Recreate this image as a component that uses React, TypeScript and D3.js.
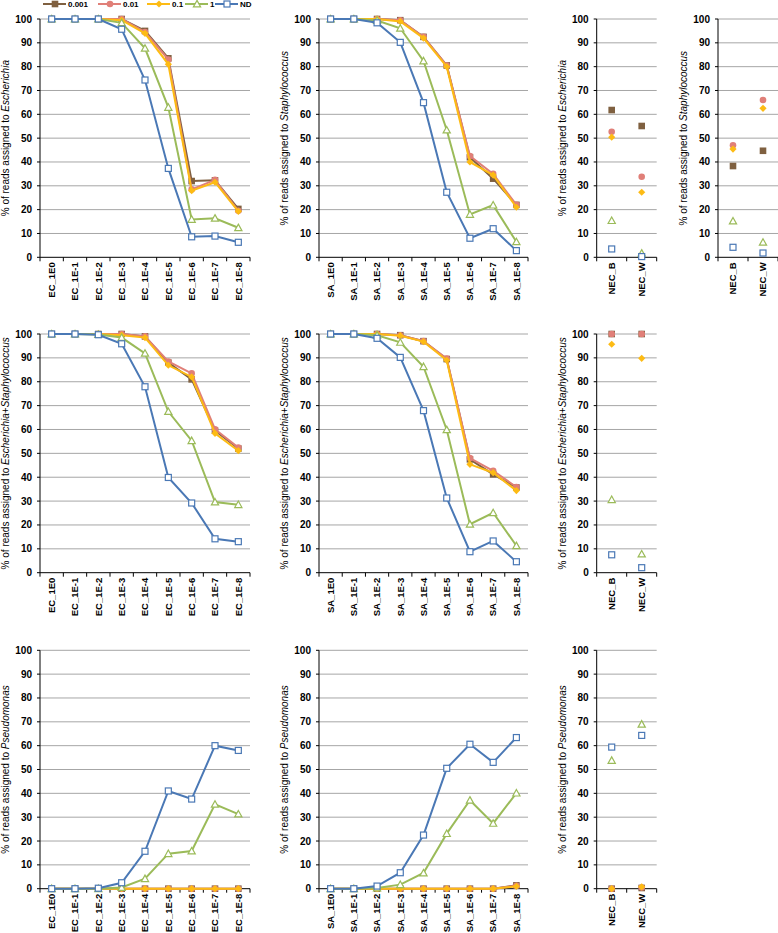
import React from "react";
import * as d3 from "d3";

const seriesNames = ["0.001", "0.01", "0.1", "1", "ND"];
const seriesColors = ["#7f6040", "#e07f78", "#fdbb14", "#9bbb59", "#4a78b5"];
const yTicks = [0, 10, 20, 30, 40, 50, 60, 70, 80, 90, 100];

const ecCategories = ["EC_1E0", "EC_1E-1", "EC_1E-2", "EC_1E-3", "EC_1E-4", "EC_1E-5", "EC_1E-6", "EC_1E-7", "EC_1E-8"];
const saCategories = ["SA_1E0", "SA_1E-1", "SA_1E-2", "SA_1E-3", "SA_1E-4", "SA_1E-5", "SA_1E-6", "SA_1E-7", "SA_1E-8"];
const necCategories = ["NEC_B", "NEC_W"];

// rows: 0.001, 0.01, 0.1, 1, ND
const ecEscherichia = [
  [100, 100, 100, 100, 95, 83.5, 32, 32.3, 20.3],
  [100, 100, 100, 100, 94.5, 83, 28.5, 32.5, 19.5],
  [100, 100, 100, 99.5, 94, 81, 28, 31.5, 19.3],
  [100, 100, 100, 98.4, 87.7, 62.9, 15.9, 16.4, 12.4],
  [100, 100, 100, 95.7, 74.4, 37.3, 8.6, 8.9, 6.3],
];
const saStaphylococcus = [
  [100, 100, 100, 99.5, 92.5, 80.5, 42, 33, 22],
  [100, 100, 100, 99.5, 92.5, 80.5, 42.5, 35, 22],
  [100, 100, 100, 99, 92, 80, 40, 34.5, 21],
  [100, 100, 99.4, 96.1, 82.4, 53.4, 18, 21.9, 6.5],
  [100, 100, 98.4, 90.2, 64.9, 27.3, 8, 12, 2.8],
];
const necEscherichia = [
  [61.8, 55.1],
  [52.7, 33.8],
  [50.4, 27.3],
  [15.4, 1.7],
  [3.5, 0.3],
];
const necStaphylococcus = [
  [38.3, 44.7],
  [47, 66],
  [45.4, 62.5],
  [15.2, 6.3],
  [4.2, 1.8],
];
const ecBoth = [
  [100, 100, 100, 100, 99, 88, 81, 59.5, 52],
  [100, 100, 100, 100, 99, 88.5, 83.5, 60.1, 52.4],
  [100, 100, 100, 99.5, 98.5, 86.9, 82, 58.4, 51.1],
  [100, 100, 99.8, 98.5, 91.9, 67.5, 55.3, 29.6, 28.5],
  [100, 100, 99.7, 95.9, 77.9, 39.9, 29.2, 14.2, 13],
];
const saBoth = [
  [100, 100, 100, 99.5, 97, 89.5, 47.5, 41.2, 35.7],
  [100, 100, 100, 99.5, 97, 89.7, 48, 42.7, 35.9],
  [100, 100, 100, 99.3, 96.8, 89, 45.4, 41.9, 34.4],
  [100, 100, 99.5, 96.5, 86.3, 59.9, 20.3, 25.1, 11.3],
  [100, 100, 98.2, 90.2, 67.9, 31.3, 8.8, 13.3, 4.6],
];
const necBoth = [
  [100, 100],
  [100, 100],
  [95.7, 89.8],
  [30.6, 7.8],
  [7.5, 2.1],
];
const ecPseudomonas = [
  [0, 0, 0, 0, 0, 0, 0, 0, 0],
  [0, 0, 0, 0, 0, 0, 0, 0, 0],
  [0, 0, 0, 0, 0, 0, 0, 0, 0],
  [0, 0, 0, 0.5, 4.2, 14.7, 15.8, 35.4, 31.3],
  [0, 0, 0.2, 2.5, 15.7, 41, 37.6, 60, 58],
];
const saPseudomonas = [
  [0, 0, 0, 0, 0, 0, 0, 0, 1.4],
  [0, 0, 0, 0, 0, 0, 0, 0, 1.2],
  [0, 0, 0, 0, 0, 0, 0, 0, 1.0],
  [0, 0, 0.3, 1.7, 6.6, 23.1, 37.1, 27.4, 40.1],
  [0, 0, 1.1, 6.7, 22.5, 50.5, 60.6, 53, 63.4],
];
const necPseudomonas = [
  [0, 0.3],
  [0, 0.5],
  [0, 0.8],
  [53.8, 69],
  [59.4, 64.3],
];

const FONT = "'Liberation Sans', Arial, Helvetica, sans-serif";

type Seg = { t: string; i: boolean };
const tEsch: Seg[] = [{ t: "% of reads assigned to ", i: false }, { t: "Escherichia", i: true }];
const tStaph: Seg[] = [{ t: "% of reads assigned to ", i: false }, { t: "Staphylococcus", i: true }];
const tBoth: Seg[] = [
  { t: "% of reads assigned to ", i: false },
  { t: "Escherichia", i: true },
  { t: "+", i: false },
  { t: "Staphylococcus", i: true },
];
const tPseudo: Seg[] = [{ t: "% of reads assigned to ", i: false }, { t: "Pseudomonas", i: true }];

function Marker({ k, x, y }: { k: number; x: number; y: number }) {
  const c = seriesColors[k];
  if (k === 0) return <rect x={x - 3.3} y={y - 3.3} width={6.6} height={6.6} fill={c} />;
  if (k === 1) return <circle cx={x} cy={y} r={3.3} fill={c} />;
  if (k === 2) {
    const s = 3.6;
    return <path d={`M${x},${y - s}L${x + s},${y}L${x},${y + s}L${x - s},${y}Z`} fill={c} />;
  }
  if (k === 3) {
    const s = 3.6;
    return (
      <path
        d={`M${x},${y - s}L${x + s},${y + s * 0.8}L${x - s},${y + s * 0.8}Z`}
        fill="#fff"
        stroke={c}
        strokeWidth={1.2}
      />
    );
  }
  return <rect x={x - 3} y={y - 3} width={6} height={6} fill="#fff" stroke={c} strokeWidth={1.2} />;
}

type PanelProps = {
  cats: string[];
  data: number[][];
  title: Seg[];
  x0: number;
  x1: number;
  y0: number;
  y1: number;
  lines: boolean;
  titleX: number;
};

function Panel({ cats, data, title, x0, x1, y0, y1, lines, titleX }: PanelProps) {
  const x = d3.scaleBand<string>().domain(cats).range([x0, x1]).padding(0);
  const y = d3.scaleLinear().domain([0, 100]).range([y1, y0]);
  const bw = x.bandwidth();
  const cx = (c: string) => (x(c) as number) + bw / 2;
  const line = d3
    .line<number>()
    .x((_, i) => cx(cats[i]))
    .y((v) => y(v));
  const boundaries = cats.map((c) => x(c) as number).concat([x1]);
  return (
    <g>
      {yTicks.map((t) => (
        <g key={t}>
          {t > 0 && <line x1={x0} x2={x1} y1={y(t)} y2={y(t)} stroke="#a6a6a6" strokeWidth={1} />}
          <line x1={x0 - 3} x2={x0} y1={y(t)} y2={y(t)} stroke="#000" strokeWidth={1} />
          <text
            x={x0 - 8}
            y={y(t)}
            dy="0.35em"
            textAnchor="end"
            fontSize={10}
            fontWeight="bold"
            fontFamily={FONT}
          >
            {t}
          </text>
        </g>
      ))}
      <line x1={x0} x2={x0} y1={y0} y2={y1} stroke="#000" strokeWidth={1} />
      <line x1={x0} x2={x1} y1={y1} y2={y1} stroke="#000" strokeWidth={1} />
      {boundaries.map((b, i) => (
        <line key={i} x1={b} x2={b} y1={y1} y2={y1 + 4} stroke="#000" strokeWidth={1} />
      ))}
      {cats.map((c) => (
        <text
          key={c}
          transform={`translate(${cx(c)},${y1 + 5}) rotate(-90)`}
          dy="0.35em"
          textAnchor="end"
          fontSize={9.5}
          fontWeight="bold"
          fontFamily={FONT}
        >
          {c}
        </text>
      ))}
      <text
        transform={`translate(${titleX},${(y0 + y1) / 2}) rotate(-90)`}
        dy="0.35em"
        textAnchor="middle"
        fontSize={10}
        fontFamily={FONT}
      >
        {title.map((s, i) => (
          <tspan key={i} fontStyle={s.i ? "italic" : "normal"}>
            {s.t}
          </tspan>
        ))}
      </text>
      {data.map((row, k) => (
        <g key={k}>
          {lines && <path d={line(row) as string} fill="none" stroke={seriesColors[k]} strokeWidth={2} />}
          {row.map((v, i) => (
            <Marker key={i} k={k} x={cx(cats[i])} y={y(v)} />
          ))}
        </g>
      ))}
    </g>
  );
}

function Legend() {
  const starts = [43, 98, 147, 185, 215];
  const ly = 4;
  return (
    <g>
      {seriesNames.map((n, k) => (
        <g key={n}>
          <line x1={starts[k]} x2={starts[k] + 23} y1={ly} y2={ly} stroke={seriesColors[k]} strokeWidth={2} />
          <Marker k={k} x={starts[k] + 12} y={ly} />
          <text
            x={starts[k] + 25}
            y={ly}
            dy="0.35em"
            fontSize={8}
            fontWeight="bold"
            fontFamily={FONT}
          >
            {n}
          </text>
        </g>
      ))}
    </g>
  );
}

export default function App() {
  const r1 = { y0: 19, y1: 257.3 };
  const r2 = { y0: 334, y1: 572.7 };
  const r3 = { y0: 650.3, y1: 888.7 };
  const c1 = { x0: 40, x1: 250, titleX: 5 };
  const c2 = { x0: 319, x1: 528, titleX: 284.5 };
  const c3 = { x0: 596.7, x1: 656.7, titleX: 562 };
  const c4 = { x0: 718, x1: 778, titleX: 683 };
  return (
    <svg
      width={778}
      height={933}
      style={{ position: "absolute", left: 0, top: 0, background: "#fff" }}
    >
      <rect width={778} height={933} fill="#fff" />
      <Panel cats={ecCategories} data={ecEscherichia} title={tEsch} lines {...c1} {...r1} />
      <Panel cats={saCategories} data={saStaphylococcus} title={tStaph} lines {...c2} {...r1} />
      <Panel cats={necCategories} data={necEscherichia} title={tEsch} lines={false} {...c3} {...r1} />
      <Panel cats={necCategories} data={necStaphylococcus} title={tStaph} lines={false} {...c4} {...r1} />
      <Panel cats={ecCategories} data={ecBoth} title={tBoth} lines {...c1} {...r2} />
      <Panel cats={saCategories} data={saBoth} title={tBoth} lines {...c2} {...r2} />
      <Panel cats={necCategories} data={necBoth} title={tBoth} lines={false} {...c3} {...r2} />
      <Panel cats={ecCategories} data={ecPseudomonas} title={tPseudo} lines {...c1} {...r3} />
      <Panel cats={saCategories} data={saPseudomonas} title={tPseudo} lines {...c2} {...r3} />
      <Panel cats={necCategories} data={necPseudomonas} title={tPseudo} lines={false} {...c3} {...r3} />
      <Legend />
    </svg>
  );
}
